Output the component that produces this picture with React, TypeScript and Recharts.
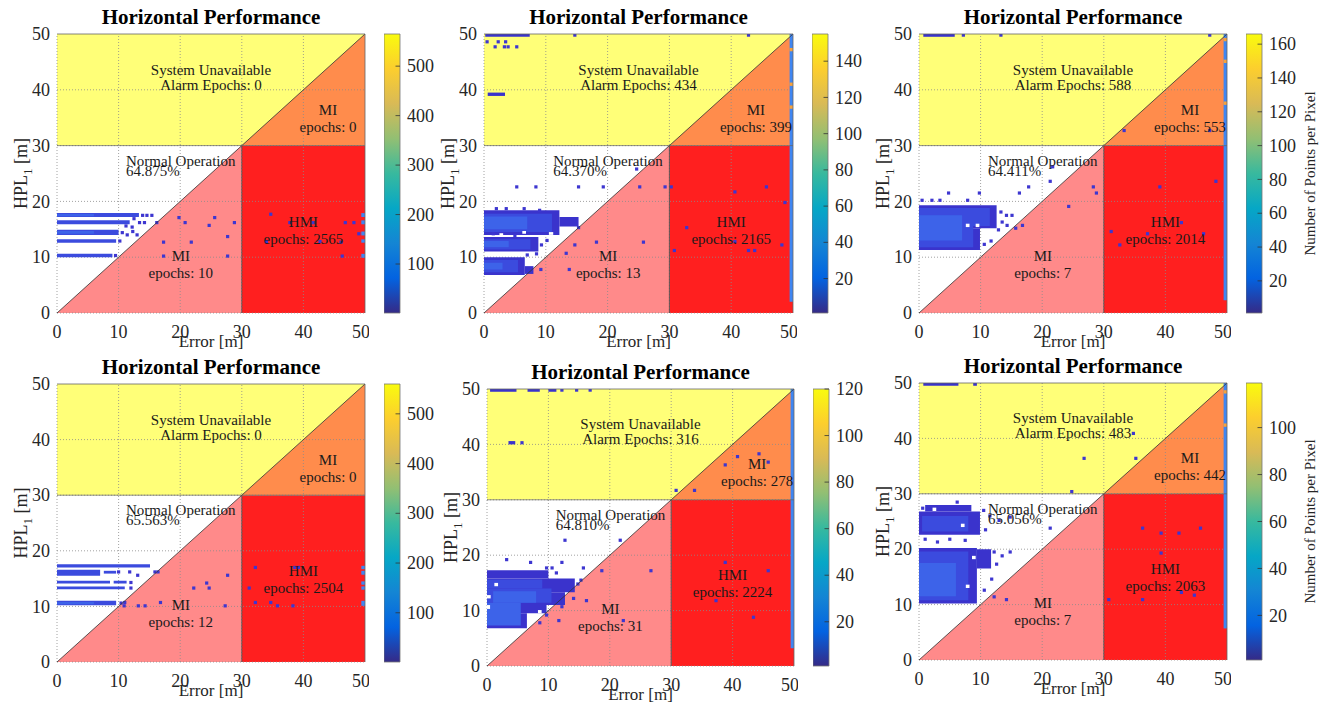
import React from 'react';
import {
  ComposedChart,
  XAxis,
  YAxis,
  Area,
  Scatter,
  ReferenceArea,
  ReferenceLine,
} from 'recharts';

const FONT = '"Liberation Serif", "Times New Roman", Times, serif';

// axes and alarm limit (metres)
const AXIS_MAX = 50;
const ALARM_LIMIT = 30;
const axisTicks = [0, 10, 20, 30, 40, 50];
const gridValues = [10, 20, 30, 40];

// panel order: top row left -> right, then bottom row
const normalPct = ['64.875%', '64.370%', '64.411%', '65.563%', '64.810%', '65.056%'];
const alarmEpochs = [0, 434, 588, 0, 316, 483];
const miUpperEpochs = [0, 399, 553, 0, 278, 442];
const hmiEpochs = [2565, 2165, 2014, 2504, 2224, 2063];
const miLowerEpochs = [10, 13, 7, 12, 31, 7];

// colorbar ranges (points per pixel)
const cbMax = [565, 155, 166, 560, 120, 119];
const cbTicks = [
  [100, 200, 300, 400, 500],
  [20, 40, 60, 80, 100, 120, 140],
  [20, 40, 60, 80, 100, 120, 140, 160],
  [100, 200, 300, 400, 500],
  [20, 40, 60, 80, 100, 120],
  [20, 40, 60, 80, 100],
];

// density blocks: [x1, x2, y1, y2, level]  level 0 dark, 1 mid, 2 light, 3 saturated edge, 4 orange, 5 empty
const p1Cells = [
  [0, 13.3, 17.2, 17.9, 1],
  [0, 11.8, 15.9, 16.6, 1],
  [0, 10.0, 14.0, 14.9, 1],
  [0, 9.6, 12.6, 13.2, 1],
  [0, 9.0, 10.0, 10.6, 1],
  [0, 6.0, 17.35, 17.75, 2],
  [0, 6.0, 14.2, 14.7, 2],
  [49.4, 50, 17.2, 17.9, 3],
  [49.4, 50, 15.9, 16.6, 3],
  [49.4, 50, 13.9, 14.6, 3],
  [49.4, 50, 12.6, 13.2, 3],
  [49.4, 50, 9.9, 10.6, 3],
];
const p2Cells = [
  [0, 12.2, 14.0, 18.4, 0],
  [12.2, 15.3, 15.5, 17.2, 0],
  [0, 11.0, 14.5, 17.8, 1],
  [0, 7.0, 15.0, 17.3, 2],
  [0, 8.8, 11.0, 13.6, 0],
  [0, 7.5, 11.4, 13.2, 1],
  [0, 4.0, 11.8, 12.9, 2],
  [0, 6.6, 6.8, 10.0, 0],
  [6.6, 8.0, 7.0, 8.4, 0],
  [0, 5.5, 7.3, 9.5, 1],
  [0, 3.0, 7.8, 9.0, 2],
  [2.5, 3.1, 13.7, 14.3, 5],
  [6.2, 6.8, 14.2, 14.7, 5],
  [10.5, 11.2, 14.0, 14.5, 5],
  [0.2, 7.4, 49.5, 50, 0],
  [0.6, 3.4, 38.9, 39.5, 0],
  [49.45, 50, 2.0, 50, 3],
  [49.45, 50, 46.9, 47.5, 4],
  [49.45, 50, 40.7, 41.3, 4],
  [49.45, 50, 36.6, 37.2, 4],
];
const p3Cells = [
  [0, 12.6, 15.2, 19.3, 0],
  [0, 9.9, 11.3, 15.2, 0],
  [0, 11.5, 15.6, 18.8, 1],
  [0, 8.8, 11.8, 15.6, 1],
  [0, 7.0, 13.0, 17.5, 2],
  [7.6, 8.2, 15.4, 16.0, 5],
  [9.2, 9.8, 15.4, 16.0, 5],
  [11.0, 11.6, 14.0, 14.6, 5],
  [0.7, 5.8, 49.5, 50, 0],
  [49.45, 50, 2.3, 50, 3],
  [49.45, 50, 48.7, 49.3, 4],
  [49.45, 50, 44.8, 45.4, 4],
  [49.45, 50, 37.3, 37.9, 4],
];
const p4Cells = [
  [0, 15.1, 17.0, 17.6, 1],
  [0, 7.0, 15.5, 16.6, 1],
  [7.6, 9.6, 15.9, 16.4, 1],
  [0, 8.6, 14.1, 14.6, 1],
  [9.2, 11.3, 14.1, 14.6, 1],
  [0, 11.0, 13.1, 13.6, 1],
  [0, 9.6, 10.2, 11.0, 1],
  [0, 6.0, 10.4, 10.8, 2],
  [49.4, 50, 16.7, 17.3, 3],
  [49.4, 50, 15.7, 16.4, 3],
  [49.4, 50, 13.9, 14.5, 3],
  [49.4, 50, 13.0, 13.6, 3],
  [49.4, 50, 10.1, 11.0, 3],
];
const p5Cells = [
  [0, 10.0, 15.8, 17.3, 0],
  [0, 14.3, 13.3, 15.8, 0],
  [0, 12.7, 11.0, 13.3, 0],
  [0, 9.7, 9.5, 11.0, 0],
  [0, 6.5, 6.8, 9.5, 0],
  [0, 9.0, 14.0, 15.6, 1],
  [0, 10.5, 11.4, 14.0, 1],
  [0, 5.5, 7.3, 11.4, 2],
  [1.0, 8.0, 11.4, 13.5, 2],
  [0, 0.6, 12.2, 12.8, 5],
  [0, 0.5, 10.3, 11.0, 5],
  [1.2, 1.8, 14.4, 15.0, 5],
  [8.3, 8.9, 9.5, 10.1, 5],
  [0.5, 4.8, 49.5, 50, 0],
  [6.6, 8.6, 49.5, 50, 0],
  [10.0, 11.3, 49.5, 50, 0],
  [3.5, 4.6, 40.0, 40.6, 0],
  [49.45, 50, 3.2, 50, 3],
];
const p6Cells = [
  [0, 9.9, 22.6, 26.8, 0],
  [1.0, 8.5, 26.8, 28.0, 0],
  [0.5, 8.0, 23.2, 26.0, 1],
  [0, 9.4, 10.2, 20.2, 0],
  [9.4, 11.7, 16.5, 20.0, 0],
  [0, 8.0, 10.8, 19.6, 1],
  [0, 6.0, 11.5, 17.5, 2],
  [6.8, 7.4, 24.0, 24.6, 5],
  [2.2, 2.8, 26.9, 27.5, 5],
  [7.6, 8.2, 13.0, 13.6, 5],
  [8.6, 9.2, 18.2, 18.8, 5],
  [0.7, 6.4, 49.5, 50, 0],
  [8.8, 9.4, 49.5, 50, 0],
  [49.45, 50, 5.7, 50, 3],
  [49.45, 50, 48.1, 48.7, 4],
  [49.45, 50, 42.1, 42.7, 4],
];

// isolated epochs: [error, HPL]
const p1Dots = [
  [13.9, 17.5], [14.6, 17.5], [15.4, 17.5], [12.5, 16.9], [13.4, 16.2], [14.2, 16.2], [11.2, 15.6],
  [12.2, 15.4], [10.6, 14.4], [11.4, 14.0], [12.3, 14.6], [13.0, 14.0], [10.2, 12.9], [9.5, 10.3],
  [16.2, 16.2], [19.8, 17.1], [20.8, 16.2], [25.6, 17.1], [24.7, 15.7], [28.8, 16.2], [27.7, 13.7],
  [21.8, 12.7], [17.3, 12.7], [17.3, 10.2], [27.7, 10.2],
  [34.7, 17.7], [37.8, 16.2], [41.6, 16.2], [46.8, 16.2], [48.2, 16.2], [49.0, 14.2], [46.1, 12.7],
  [46.3, 10.2], [34.0, 12.8], [42.7, 12.8],
];
const p2Dots = [
  [14.7, 49.8], [42.8, 49.8], [0.5, 48.6], [2.3, 48.6], [3.5, 48.6], [1.8, 47.7], [3.3, 47.7],
  [3.9, 47.7], [5.3, 47.7],
  [2.0, 18.7], [3.6, 18.7], [6.5, 18.7], [9.0, 18.4], [5.0, 13.9], [1.5, 14.2], [10.2, 13.0],
  [9.3, 12.2], [8.5, 10.6], [7.0, 10.4],
  [5.3, 22.6], [8.4, 22.6], [15.3, 22.6], [19.3, 22.6], [25.2, 22.6], [29.3, 22.6], [30.3, 22.6],
  [24.7, 25.8], [48.7, 19.8], [40.6, 21.7], [45.7, 22.6],
  [15.3, 15.3], [18.2, 12.7], [25.8, 12.7], [14.7, 12.2], [13.3, 10.7], [13.8, 7.8], [9.2, 7.8],
  [32.8, 15.3], [30.8, 11.2], [40.6, 12.8], [42.8, 11.2], [43.8, 11.2], [48.2, 12.2],
];
const p3Dots = [
  [7.2, 49.8], [13.3, 49.8], [47.2, 49.8],
  [0.5, 20.2], [2.1, 20.2], [3.4, 20.2], [7.9, 20.2], [4.8, 21.5], [9.8, 21.5],
  [13.3, 18.1], [14.2, 17.5], [15.1, 17.5], [13.5, 16.3], [14.3, 15.7], [12.9, 14.9], [10.6, 12.3],
  [11.7, 12.9],
  [16.3, 21.5], [17.8, 22.6], [21.7, 26.2], [21.3, 23.6], [28.3, 22.6], [28.8, 21.5], [24.3, 19.1],
  [15.7, 15.2], [16.8, 15.7],
  [33.3, 32.7], [47.2, 32.7], [39.1, 22.6], [48.2, 23.6], [42.6, 16.2], [37.1, 14.2], [31.2, 14.6],
  [32.6, 12.2], [46.2, 14.2],
];
const p4Dots = [
  [10.0, 16.2], [11.8, 16.2], [13.1, 15.6], [15.9, 16.2], [16.4, 16.2], [12.0, 14.3], [12.0, 13.3],
  [10.4, 10.6], [11.0, 10.7],
  [10.9, 10.1], [13.2, 10.1], [14.3, 10.1], [16.8, 10.7], [22.2, 13.3], [24.3, 14.2], [24.7, 13.3],
  [27.7, 15.6], [27.3, 10.1],
  [32.2, 17.0], [31.2, 13.3], [32.2, 10.7], [34.7, 10.7], [35.8, 10.1], [38.3, 10.1], [38.6, 17.0],
  [39.2, 17.0],
];
const p5Dots = [
  [12.2, 49.8], [14.6, 49.8], [16.8, 49.8], [5.7, 40.3],
  [12.7, 22.7], [21.7, 22.7], [3.2, 19.2], [7.1, 18.7], [9.7, 17.7], [12.2, 18.7], [15.7, 17.7],
  [10.6, 17.7], [11.3, 16.8], [14.8, 14.8], [15.3, 15.5],
  [18.7, 17.2], [26.7, 17.2], [16.2, 11.8], [12.2, 10.7], [11.7, 8.2], [8.6, 7.8], [9.7, 9.2],
  [22.2, 8.2], [14.1, 12.2],
  [38.8, 18.7], [45.8, 17.2], [37.3, 11.8], [43.4, 8.8],
  [38.8, 36.3], [40.8, 37.8], [44.3, 38.3], [45.8, 36.8], [30.8, 31.7], [33.8, 31.7],
];
const p6Dots = [
  [1.0, 21.8], [3.0, 21.3], [5.0, 21.8], [7.5, 21.6], [6.2, 28.5], [0.6, 27.4], [10.5, 27.0],
  [11.5, 26.0], [13.0, 25.2], [14.8, 25.8], [10.8, 23.5],
  [12.2, 19.5], [13.5, 18.8], [14.8, 19.5], [12.6, 17.3], [11.8, 14.6], [10.6, 12.6], [14.2, 10.9],
  [12.2, 11.4],
  [26.8, 36.4], [35.2, 36.4], [34.8, 40.9], [24.8, 30.4], [21.3, 23.8],
  [30.8, 10.9], [36.3, 10.9], [36.3, 23.8], [39.3, 22.9], [42.2, 22.9], [45.7, 23.8], [39.3, 19.3],
  [42.6, 12.2], [44.7, 11.7],
];

const panelCells = [p1Cells, p2Cells, p3Cells, p4Cells, p5Cells, p6Cells];
const panelDots = [p1Dots, p2Dots, p3Dots, p4Dots, p5Dots, p6Dots];

// region polygons (pink lower MI triangle, orange upper MI triangle)
const regionVertices = [
  { x: 0, pink: [0, 0], orange: null },
  { x: ALARM_LIMIT, pink: [0, ALARM_LIMIT], orange: [ALARM_LIMIT, ALARM_LIMIT] },
  { x: AXIS_MAX, pink: null, orange: [ALARM_LIMIT, AXIS_MAX] },
];

// where the region captions sit, in axis units
const labelAnchors = {
  unavailable: { x: 25, y: 42.7 },
  miUpper: { x: 44, y: 35.5 },
  hmi: { x: 40, y: 15.5 },
  miLower: { x: 20.1, y: 9.3 },
  normal: { x: 11.2, y: 26.4 },
};

// page placement of each plot box / colorbar
const layouts = [
  { pl: 57, pt: 34, pw: 308, ph: 279, cbl: 384 },
  { pl: 484, pt: 34, pw: 309, ph: 279, cbl: 812 },
  { pl: 919, pt: 34, pw: 308, ph: 279, cbl: 1246 },
  { pl: 57, pt: 384, pw: 308, ph: 278, cbl: 384 },
  { pl: 487, pt: 389, pw: 307, ph: 277, cbl: 813 },
  { pl: 919, pt: 383, pw: 308, ph: 277, cbl: 1246 },
];

const YELLOW = '#ffff78';
const ORANGE = '#ff8c4c';
const RED = '#ff1f1f';
const PINK = '#ff8a8a';
const DOT = '#3d36d0';
const TICK_COLOR = '#262626';
const cellColors = ['#3a33cc', '#3b4bde', '#3d63e9', '#3f86f2', '#f7a23c', '#ffffff'];
const parulaStops: [number, string][] = [
  [0, '#352a87'],
  [0.125, '#0363e1'],
  [0.25, '#1485d4'],
  [0.375, '#06a7c6'],
  [0.5, '#38b99e'],
  [0.625, '#92bf73'],
  [0.75, '#d9ba56'],
  [0.875, '#fcce2e'],
  [1, '#f9fb0e'],
];

const gridLine = { stroke: '#8a8a8a', strokeDasharray: '1 2', strokeWidth: 0.8 };

const renderXTick = (p: any) => (
  <text x={p.x} y={p.y} dy="0.71em" textAnchor="middle" fontFamily={FONT} fontSize={18} fill={TICK_COLOR}>
    {p.payload.value}
  </text>
);
const renderYTick = (p: any) => (
  <text x={p.x} y={p.y} dy="0.34em" textAnchor="end" fontFamily={FONT} fontSize={18} fill={TICK_COLOR}>
    {p.payload.value}
  </text>
);
const renderCbTick = (p: any) => (
  <text x={p.x} y={p.y} dy="0.34em" textAnchor="start" fontFamily={FONT} fontSize={18} fill={TICK_COLOR}>
    {p.payload.value}
  </text>
);

const renderDot = (props: any) => (
  <rect x={props.cx - 1.6} y={props.cy - 1.6} width={3.2} height={3.2} fill={DOT} />
);

const renderRegionText = (props: any) => {
  const { cx, cy, payload } = props;
  return (
    <text x={cx} y={cy} textAnchor={payload.anchor} fontFamily={FONT} fontSize={15} fill="#1a1a1a">
      <tspan x={cx}>{payload.l1}</tspan>
      <tspan x={cx} dy={payload.gap}>
        {payload.l2}
      </tspan>
    </text>
  );
};

function StanfordPanel({ idx }: { idx: number }) {
  const L = layouts[idx];
  const cells = panelCells[idx];
  const dots = panelDots[idx].map(([x, y]) => ({ x, y }));
  const texts = [
    { ...labelAnchors.unavailable, l1: 'System Unavailable', l2: `Alarm Epochs: ${alarmEpochs[idx]}`, anchor: 'middle', gap: 15 },
    { ...labelAnchors.miUpper, l1: 'MI', l2: `epochs: ${miUpperEpochs[idx]}`, anchor: 'middle', gap: 17 },
    { ...labelAnchors.hmi, l1: 'HMI', l2: `epochs: ${hmiEpochs[idx]}`, anchor: 'middle', gap: 17 },
    { ...labelAnchors.miLower, l1: 'MI', l2: `epochs: ${miLowerEpochs[idx]}`, anchor: 'middle', gap: 17 },
    { ...labelAnchors.normal, l1: 'Normal Operation', l2: normalPct[idx], anchor: 'start', gap: 10 },
  ];
  const chartW = L.pw + 64;
  const chartH = L.ph + 78;
  const midX = 60 + L.pw / 2;
  const midY = 40 + L.ph / 2;

  return (
    <div style={{ position: 'absolute', left: L.pl - 60, top: L.pt - 40 }}>
      <ComposedChart
        width={chartW}
        height={chartH}
        data={regionVertices}
        margin={{ top: 40, right: 4, bottom: 0, left: 0 }}
      >
        <XAxis
          type="number"
          dataKey="x"
          domain={[0, AXIS_MAX]}
          ticks={axisTicks}
          allowDataOverflow
          height={38}
          tickSize={0}
          tickMargin={12}
          axisLine={false}
          tickLine={false}
          tick={renderXTick}
        />
        <YAxis
          type="number"
          dataKey="y"
          domain={[0, AXIS_MAX]}
          ticks={axisTicks}
          allowDataOverflow
          width={60}
          tickSize={0}
          tickMargin={7}
          axisLine={false}
          tickLine={false}
          tick={renderYTick}
        />
        <ReferenceArea x1={0} x2={AXIS_MAX} y1={ALARM_LIMIT} y2={AXIS_MAX} fill={YELLOW} fillOpacity={1} zIndex={101} />
        <ReferenceArea x1={ALARM_LIMIT} x2={AXIS_MAX} y1={0} y2={ALARM_LIMIT} fill={RED} fillOpacity={1} zIndex={101} />
        <Area
          dataKey="pink"
          type="linear"
          stroke="none"
          fill={PINK}
          fillOpacity={1}
          dot={false}
          activeDot={false}
          isAnimationActive={false}
          zIndex={102}
        />
        <Area
          dataKey="orange"
          type="linear"
          stroke="none"
          fill={ORANGE}
          fillOpacity={1}
          dot={false}
          activeDot={false}
          isAnimationActive={false}
          zIndex={102}
        />
        {gridValues.map((v) => (
          <ReferenceLine key={'gx' + v} x={v} {...gridLine} zIndex={103} />
        ))}
        {gridValues.map((v) => (
          <ReferenceLine key={'gy' + v} y={v} {...gridLine} zIndex={103} />
        ))}
        <ReferenceLine x={0} {...gridLine} zIndex={103} />
        <ReferenceLine y={0} {...gridLine} zIndex={103} />
        {cells.map((c, k) => (
          <ReferenceArea
            key={'c' + k}
            x1={c[0]}
            x2={c[1]}
            y1={c[2]}
            y2={c[3]}
            fill={cellColors[c[4]]}
            fillOpacity={1}
            zIndex={104}
          />
        ))}
        <Scatter data={dots} shape={renderDot} isAnimationActive={false} zIndex={105} />
        <ReferenceLine
          segment={[{ x: 0, y: 0 }, { x: AXIS_MAX, y: AXIS_MAX }]}
          stroke="#333"
          strokeWidth={0.8}
          zIndex={106}
        />
        <ReferenceLine y={ALARM_LIMIT} stroke="#666" strokeWidth={0.7} zIndex={106} />
        <ReferenceLine
          segment={[{ x: ALARM_LIMIT, y: 0 }, { x: ALARM_LIMIT, y: ALARM_LIMIT }]}
          stroke="#444"
          strokeWidth={0.8}
          zIndex={106}
        />
        <ReferenceLine y={AXIS_MAX} stroke="#666" strokeWidth={0.8} zIndex={106} />
        <ReferenceLine x={AXIS_MAX} stroke="#666" strokeWidth={0.8} zIndex={106} />
        <Scatter data={texts} shape={renderRegionText} isAnimationActive={false} zIndex={107} />
        <text
          x={midX}
          y={30}
          textAnchor="middle"
          fontFamily={FONT}
          fontSize={21}
          fontWeight="bold"
          fill="#000"
        >
          Horizontal Performance
        </text>
        <text x={midX} y={40 + L.ph + 34} textAnchor="middle" fontFamily={FONT} fontSize={17} fill={TICK_COLOR}>
          Error [m]
        </text>
        <text
          x={30}
          y={midY}
          transform={`rotate(-90 30 ${midY})`}
          textAnchor="middle"
          fontFamily={FONT}
          fontSize={18}
          fill={TICK_COLOR}
        >
          HPL
          <tspan dy={5} fontSize={13}>
            1
          </tspan>
          <tspan dy={-5}> [m]</tspan>
        </text>
      </ComposedChart>
    </div>
  );
}

const colorbarRange = [{ x: 0 }, { x: 1 }];

function Colorbar({ idx }: { idx: number }) {
  const L = layouts[idx];
  const gid = `parula-${idx}`;
  const labelY = 10 + L.ph / 2;
  const showLabel = idx === 2 || idx === 5;
  return (
    <div style={{ position: 'absolute', left: L.cbl, top: L.pt - 10 }}>
      <ComposedChart
        width={90}
        height={L.ph + 20}
        data={colorbarRange}
        margin={{ top: 10, right: 0, bottom: 10, left: 0 }}
      >
        <defs>
          <linearGradient id={gid} x1="0" y1="1" x2="0" y2="0">
            {parulaStops.map(([o, c]) => (
              <stop key={o} offset={o} stopColor={c} />
            ))}
          </linearGradient>
        </defs>
        <XAxis type="number" dataKey="x" domain={[0, 1]} hide />
        <YAxis
          type="number"
          orientation="right"
          domain={[1, cbMax[idx]]}
          ticks={cbTicks[idx]}
          allowDataOverflow
          width={74}
          tickSize={0}
          tickMargin={7}
          axisLine={false}
          tickLine={false}
          tick={renderCbTick}
        />
        <ReferenceArea
          x1={0}
          x2={1}
          y1={1}
          y2={cbMax[idx]}
          fill={`url(#${gid})`}
          fillOpacity={1}
          stroke="#777"
          strokeWidth={0.8}
        />
        {cbTicks[idx].map((t) => (
          <ReferenceLine
            key={t}
            segment={[{ x: 0.72, y: t }, { x: 1, y: t }]}
            stroke="#333"
            strokeWidth={0.8}
          />
        ))}
        {showLabel ? (
          <text
            x={69}
            y={labelY}
            transform={`rotate(-90 69 ${labelY})`}
            textAnchor="middle"
            fontFamily={FONT}
            fontSize={15}
            fill={TICK_COLOR}
          >
            Number of Points per Pixel
          </text>
        ) : null}
      </ComposedChart>
    </div>
  );
}

export default function App() {
  const idxs = [0, 1, 2, 3, 4, 5];
  return (
    <div
      style={{
        position: 'absolute',
        left: 0,
        top: 0,
        width: 1327,
        height: 704,
        background: '#fff',
        overflow: 'hidden',
      }}
    >
      {idxs.map((i) => (
        <Colorbar key={'cb' + i} idx={i} />
      ))}
      {idxs.map((i) => (
        <StanfordPanel key={'p' + i} idx={i} />
      ))}
    </div>
  );
}
